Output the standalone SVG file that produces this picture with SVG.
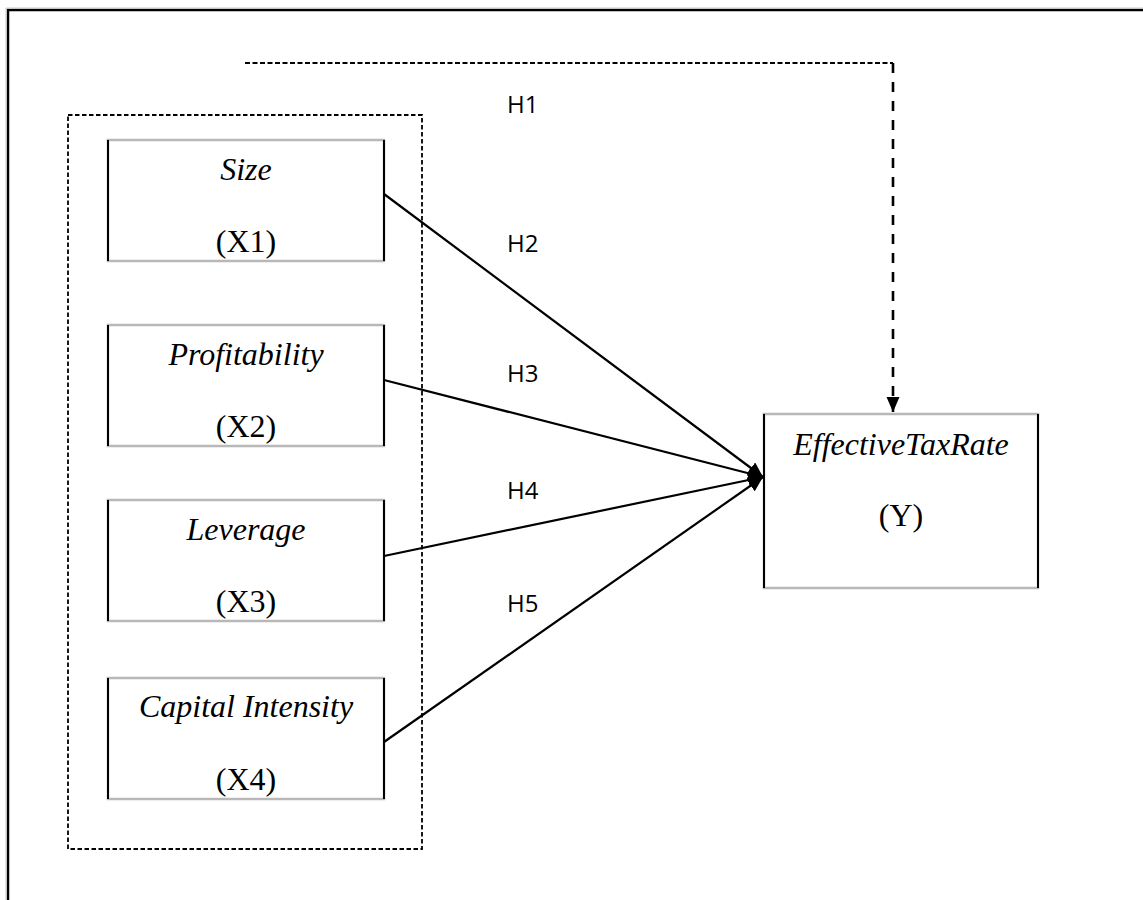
<svg xmlns="http://www.w3.org/2000/svg" width="1143" height="900" viewBox="0 0 1143 900">
<style>
.frame{fill:none;stroke:#000;stroke-width:2.5}
.box{fill:#fff;stroke:#b8b8b8;stroke-width:2.5}
.side{stroke:#000;stroke-width:2}
.lbl{font-family:"Liberation Serif","Times New Roman",serif;font-size:32px;fill:#000;text-anchor:middle}
.it{font-style:italic}
.h{font-family:"Open Sans","Liberation Sans",sans-serif;font-size:24px;fill:#000}
.conn{stroke:#000;stroke-width:2.2;fill:none}
.dashH{stroke:#000;stroke-width:1.8;fill:none;stroke-dasharray:5 2.5}
.dashV{stroke:#000;stroke-width:2.6;fill:none;stroke-dasharray:10 9}
.group{fill:none;stroke:#000;stroke-width:1.8;stroke-dasharray:4.5 2.5}
</style>
<defs>
<marker id="arr" markerUnits="userSpaceOnUse" markerWidth="16" markerHeight="14" refX="15" refY="7" orient="auto">
<path d="M0,0 L15,7 L0,14 Z" fill="#000"/>
</marker>
<marker id="arrD" markerUnits="userSpaceOnUse" markerWidth="16" markerHeight="14" refX="15" refY="7" orient="auto">
<path d="M0,0.5 L15,7 L0,13.5 Z" fill="#000"/>
</marker>
</defs>
<rect width="1143" height="900" fill="#fff"/>
<path class="frame" d="M8,902 V10 H1145"/>
<path d="M6,902 V8 H1145" fill="none" stroke="#c8c8c8" stroke-width="1"/>
<g id="indep-group">
<rect class="group" x="68" y="115" width="354" height="734"/>
</g>
<g id="size">
<rect class="box" x="108" y="140" width="276" height="121"/>
<line class="side" x1="108" y1="140" x2="108" y2="261"/><line class="side" x1="384" y1="140" x2="384" y2="261"/>
<text class="lbl it" x="246" y="180">Size</text>
<text class="lbl" x="246" y="252">(X1)</text>
</g>
<g id="profitability">
<rect class="box" x="108" y="325" width="276" height="121"/>
<line class="side" x1="108" y1="325" x2="108" y2="446"/><line class="side" x1="384" y1="325" x2="384" y2="446"/>
<text class="lbl it" x="246" y="365">Profitability</text>
<text class="lbl" x="246" y="437">(X2)</text>
</g>
<g id="leverage">
<rect class="box" x="108" y="500" width="276" height="121"/>
<line class="side" x1="108" y1="500" x2="108" y2="621"/><line class="side" x1="384" y1="500" x2="384" y2="621"/>
<text class="lbl it" x="246" y="540">Leverage</text>
<text class="lbl" x="246" y="612">(X3)</text>
</g>
<g id="capital-intensity">
<rect class="box" x="108" y="678" width="276" height="121"/>
<line class="side" x1="108" y1="678" x2="108" y2="799"/><line class="side" x1="384" y1="678" x2="384" y2="799"/>
<text class="lbl it" x="246" y="717">Capital Intensity</text>
<text class="lbl" x="246" y="790">(X4)</text>
</g>
<g id="etr">
<rect class="box" x="764" y="414" width="274" height="174"/>
<line class="side" x1="764" y1="414" x2="764" y2="588"/><line class="side" x1="1038" y1="414" x2="1038" y2="588"/>
<text class="lbl it" x="901" y="455">EffectiveTaxRate</text>
<text class="lbl" x="901" y="526">(Y)</text>
</g>
<g id="connectors">
<path class="dashH" d="M245,63 H893"/>
<path class="dashV" d="M893,63 V412" marker-end="url(#arrD)"/>
<line class="conn" x1="384" y1="194" x2="763" y2="477" marker-end="url(#arr)"/>
<line class="conn" x1="384" y1="380" x2="763" y2="477" marker-end="url(#arr)"/>
<line class="conn" x1="384" y1="556" x2="763" y2="477" marker-end="url(#arr)"/>
<line class="conn" x1="384" y1="742" x2="763" y2="477" marker-end="url(#arr)"/>
</g>
<g id="labels">
<text class="h" x="507" y="113">H1</text>
<text class="h" x="507" y="252">H2</text>
<text class="h" x="507" y="382">H3</text>
<text class="h" x="507" y="499">H4</text>
<text class="h" x="507" y="612">H5</text>
</g>
</svg>
